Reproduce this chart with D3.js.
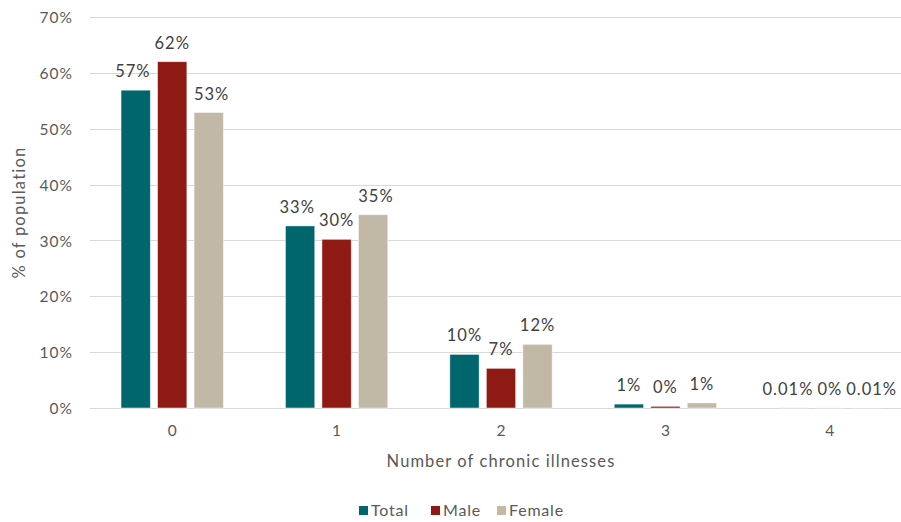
<!DOCTYPE html>
<html>
<head>
<meta charset="utf-8">
<script src="https://cdn.jsdelivr.net/npm/d3@7"></script>
<style>
  html, body { margin: 0; padding: 0; background: #fff; }
  svg { display: block; font-family: "Lato", "Noto Sans", sans-serif; }
</style>
</head>
<body>
<svg id="chart" width="901" height="522"></svg>
<script>
// Share of population by number of chronic illnesses
const categories = ["0", "1", "2", "3", "4"];
const seriesNames = ["Total", "Male", "Female"];
const totalValues  = [0.569, 0.326, 0.096, 0.007, 0.0001];
const maleValues   = [0.620, 0.302, 0.071, 0.003, 0.00004];
const femaleValues = [0.529, 0.346, 0.114, 0.009, 0.0001];
const totalLabels  = ["57%", "33%", "10%", "1%", "0.01%"];
const maleLabels   = ["62%", "30%", "7%", "0%", "0%"];
const femaleLabels = ["53%", "35%", "12%", "1%", "0.01%"];
const yTicks = [0, 0.1, 0.2, 0.3, 0.4, 0.5, 0.6, 0.7];
const colors = ["#00666e", "#8f1a13", "#c1b9a6"];

const seriesValues = [totalValues, maleValues, femaleValues];
const seriesLabels = [totalLabels, maleLabels, femaleLabels];

const svg = d3.select("#chart");
const margin = { left: 90, right: -11, top: 17, bottom: 114 };
const W = 901, H = 522;
const FONT = "Lato, sans-serif";

const x = d3.scaleBand().domain(categories)
  .range([margin.left, W - margin.right]).paddingInner(0).paddingOuter(0);
const x1 = d3.scaleBand().domain(seriesNames)
  .range([0, x.bandwidth()]).paddingInner(0.197).paddingOuter(0.85);
const y = d3.scaleLinear().domain([0, 0.7]).range([H - margin.bottom, margin.top]);

// gridlines
svg.append("g").selectAll("line").data(yTicks).join("line")
  .attr("x1", margin.left).attr("x2", W)
  .attr("y1", d => Math.round(y(d)) + 0.5).attr("y2", d => Math.round(y(d)) + 0.5)
  .attr("stroke", "#d9d9d9").attr("stroke-width", 1);

// y tick labels
const yAxis = d3.axisLeft(y).tickValues(yTicks).tickFormat(d3.format(".0%")).tickSize(0).tickPadding(0);
const gy = svg.append("g").attr("transform", `translate(${margin.left - 17},0)`).call(yAxis);
gy.select(".domain").remove();
gy.selectAll("text").attr("font-size", 15.5).attr("fill", "#595959")
  .attr("font-family", FONT).attr("letter-spacing", 1).attr("dy", "0.36em");

// x tick labels
const xAxis = d3.axisBottom(x).tickSize(0).tickPadding(0);
const gx = svg.append("g").attr("transform", `translate(0,${y(0) + 16})`).call(xAxis);
gx.select(".domain").remove();
gx.selectAll("text").attr("font-size", 15.5).attr("fill", "#595959")
  .attr("font-family", FONT).attr("dy", "0.75em");

// bars
const groups = svg.append("g").selectAll("g").data(seriesNames).join("g")
  .attr("fill", (d, i) => colors[i]);
groups.each(function (name, si) {
  d3.select(this).selectAll("rect").data(categories).join("rect")
    .attr("x", (c) => x(c) + x1(name))
    .attr("width", x1.bandwidth())
    .attr("y", (c, ci) => y(seriesValues[si][ci]))
    .attr("height", (c, ci) => y(0) - y(seriesValues[si][ci]))
    .attr("stroke", "#ffffff").attr("stroke-opacity", 0.6).attr("stroke-width", 0.8);
});

// value labels, spread apart where they would collide
const labelLayer = svg.append("g")
  .attr("font-size", 16.5).attr("fill", "#404040").attr("text-anchor", "middle")
  .attr("font-family", FONT).attr("letter-spacing", 1);
categories.forEach((c, ci) => {
  const items = seriesNames.map((name, si) => {
    const cx = x(c) + x1(name) + x1.bandwidth() / 2;
    const t = labelLayer.append("text")
      .attr("x", cx)
      .attr("y", y(seriesValues[si][ci]) - 13)
      .text(seriesLabels[si][ci]);
    return { t, cx, w: t.node().getComputedTextLength() };
  });
  const gap = 4;
  const [left, mid, right] = items;
  const needL = (mid.cx - mid.w / 2 - gap) - (left.cx + left.w / 2);
  if (needL < 0) left.t.attr("x", left.cx + needL);
  const needR = (right.cx - right.w / 2) - (mid.cx + mid.w / 2 + gap);
  if (needR < 0) right.t.attr("x", right.cx - needR);
});

// axis titles
svg.append("text")
  .attr("transform", `translate(25,${(y(0) + y(0.7)) / 2}) rotate(-90)`)
  .attr("text-anchor", "middle").attr("font-size", 16.5).attr("fill", "#595959")
  .attr("font-family", FONT).attr("letter-spacing", 1.2)
  .text("% of population");
svg.append("text")
  .attr("x", 501).attr("y", 467)
  .attr("text-anchor", "middle").attr("font-size", 16.5).attr("fill", "#595959")
  .attr("font-family", FONT).attr("letter-spacing", 1.1)
  .text("Number of chronic illnesses");

// legend
const legendX = [359, 431, 497];
const legend = svg.append("g").selectAll("g").data(seriesNames).join("g")
  .attr("transform", (d, i) => `translate(${legendX[i]},506)`);
legend.append("rect").attr("width", 9).attr("height", 9).attr("fill", (d, i) => colors[i]);
legend.append("text").attr("x", 12).attr("y", 10)
  .attr("font-size", 16).attr("fill", "#595959").attr("font-family", FONT).attr("letter-spacing", 0.8)
  .text(d => d);
</script>
</body>
</html>
